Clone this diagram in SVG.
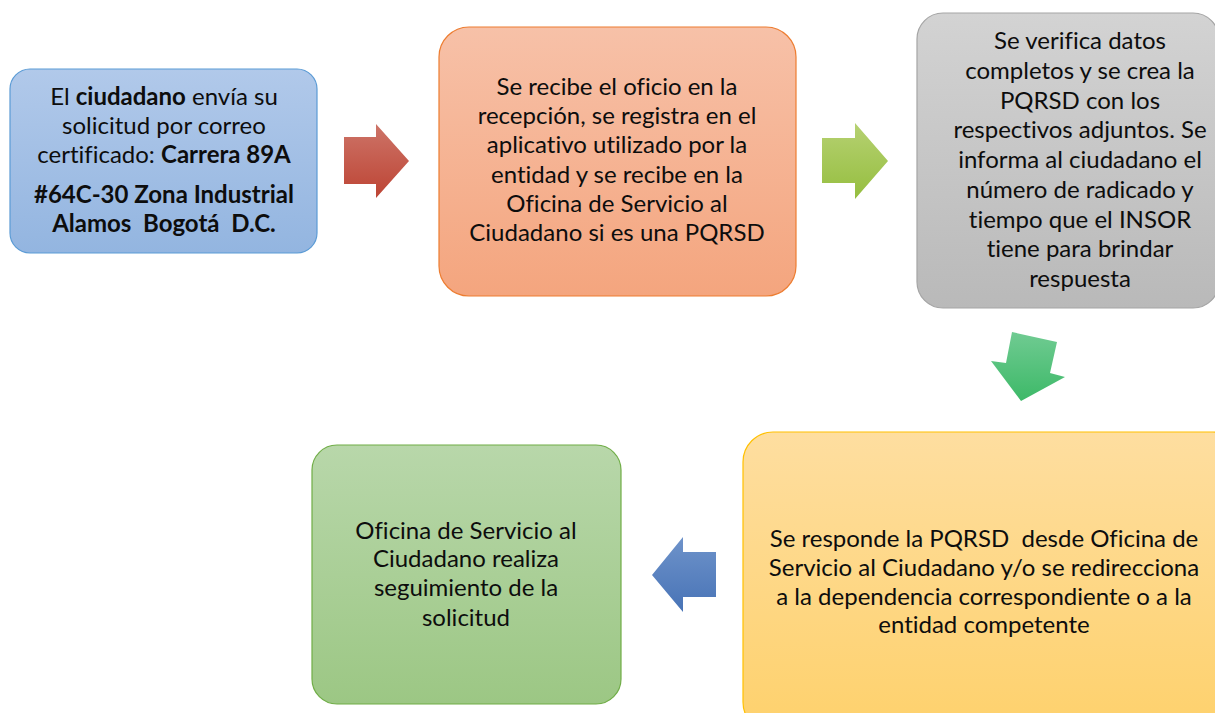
<svg xmlns="http://www.w3.org/2000/svg" width="1215" height="713" viewBox="0 0 1215 713">
<defs>
<linearGradient id="gBlue" x1="0" y1="0" x2="0" y2="1"><stop offset="0" stop-color="#b1c9ea"/><stop offset="1" stop-color="#93b5e0"/></linearGradient>
<linearGradient id="gOrange" x1="0" y1="0" x2="0" y2="1"><stop offset="0" stop-color="#f7c1a8"/><stop offset="1" stop-color="#f4a57e"/></linearGradient>
<linearGradient id="gGray" x1="0" y1="0" x2="0" y2="1"><stop offset="0" stop-color="#d3d3d3"/><stop offset="1" stop-color="#b9b9b9"/></linearGradient>
<linearGradient id="gYellow" x1="0" y1="0" x2="0" y2="1"><stop offset="0" stop-color="#fedea0"/><stop offset="1" stop-color="#fed16c"/></linearGradient>
<linearGradient id="gGreen" x1="0" y1="0" x2="0" y2="1"><stop offset="0" stop-color="#b8d7aa"/><stop offset="1" stop-color="#9cc784"/></linearGradient>
<linearGradient id="aRed" x1="0" y1="0" x2="0" y2="1"><stop offset="0" stop-color="#cd7468"/><stop offset="1" stop-color="#bd4434"/></linearGradient>
<linearGradient id="aLime" x1="0" y1="0" x2="0" y2="1"><stop offset="0" stop-color="#b6d172"/><stop offset="1" stop-color="#95be3f"/></linearGradient>
<linearGradient id="aGreen" x1="0" y1="0" x2="0" y2="1"><stop offset="0" stop-color="#70cb92"/><stop offset="1" stop-color="#3db968"/></linearGradient>
<linearGradient id="aBlue" x1="0" y1="0" x2="0" y2="1"><stop offset="0" stop-color="#6e93ca"/><stop offset="1" stop-color="#4873b6"/></linearGradient>
</defs>
<style>
text { font-family: Lato, "Liberation Sans", sans-serif; font-size: 24px; fill: #0d0d0d; text-anchor: middle; font-variant-ligatures: none; white-space: pre; }
.b { font-weight: bold; }
.box { stroke-width: 1.2; }
</style>
<rect width="1215" height="713" fill="#ffffff"/>
<g id="connectors">
<polygon points="344,137 376,137 376,124 409,161 376,198 376,184 344,184" fill="url(#aRed)"/>
<polygon points="822,138 855,138 855,123 888,161 855,199 855,183 822,183" fill="url(#aLime)"/>
<polygon points="1012,332 1057,342 1050,373 1065,377 1021,401 991,361 1006,363" fill="url(#aGreen)"/>
<polygon points="716,552 683,552 683,537 652,575 683,612 683,597 716,597" fill="url(#aBlue)"/>
</g>
<g id="node1">
<rect class="box" x="10" y="69" width="307" height="184" rx="20" fill="url(#gBlue)" stroke="#5b9bd5"/>
<text x="164" y="105">El <tspan class="b">ciudadano</tspan> envía su</text>
<text x="164" y="134">solicitud por correo</text>
<text x="164" y="163">certificado: <tspan class="b">Carrera 89A</tspan></text>
<text x="164" y="203" class="b">#64C-30 Zona Industrial</text>
<text x="164" y="232" class="b" xml:space="preserve">Alamos  Bogotá  D.C.</text>
</g>
<g id="node2">
<rect class="box" x="439" y="27" width="357" height="269" rx="30" fill="url(#gOrange)" stroke="#ed7d31"/>
<text x="617" y="95">Se recibe el oficio en la</text>
<text x="617" y="124">recepción, se registra en el</text>
<text x="617" y="153">aplicativo utilizado por la</text>
<text x="617" y="183">entidad y se recibe en la</text>
<text x="617" y="212">Oficina de Servicio al</text>
<text x="617" y="241">Ciudadano si es una PQRSD</text>
</g>
<g id="node3">
<rect class="box" x="917" y="13" width="302" height="295" rx="26" fill="url(#gGray)" stroke="#a5a5a5"/>
<text x="1080" y="49">Se verifica datos</text>
<text x="1080" y="79">completos y se crea la</text>
<text x="1080" y="109">PQRSD con los</text>
<text x="1080" y="138">respectivos adjuntos. Se</text>
<text x="1080" y="168">informa al ciudadano el</text>
<text x="1080" y="198">número de radicado y</text>
<text x="1080" y="228">tiempo que el INSOR</text>
<text x="1080" y="257">tiene para brindar</text>
<text x="1080" y="287">respuesta</text>
</g>
<g id="node4">
<rect class="box" x="743" y="432" width="500" height="300" rx="30" fill="url(#gYellow)" stroke="#ffc000"/>
<text x="984" y="547" xml:space="preserve">Se responde la PQRSD  desde Oficina de</text>
<text x="984" y="576">Servicio al Ciudadano y/o se redirecciona</text>
<text x="984" y="605">a la dependencia correspondiente o a la</text>
<text x="984" y="633">entidad competente</text>
</g>
<g id="node5">
<rect class="box" x="312" y="445" width="309" height="259" rx="25" fill="url(#gGreen)" stroke="#70ad47"/>
<text x="466" y="539">Oficina de Servicio al</text>
<text x="466" y="567">Ciudadano realiza</text>
<text x="466" y="596">seguimiento de la</text>
<text x="466" y="626">solicitud</text>
</g>
</svg>
